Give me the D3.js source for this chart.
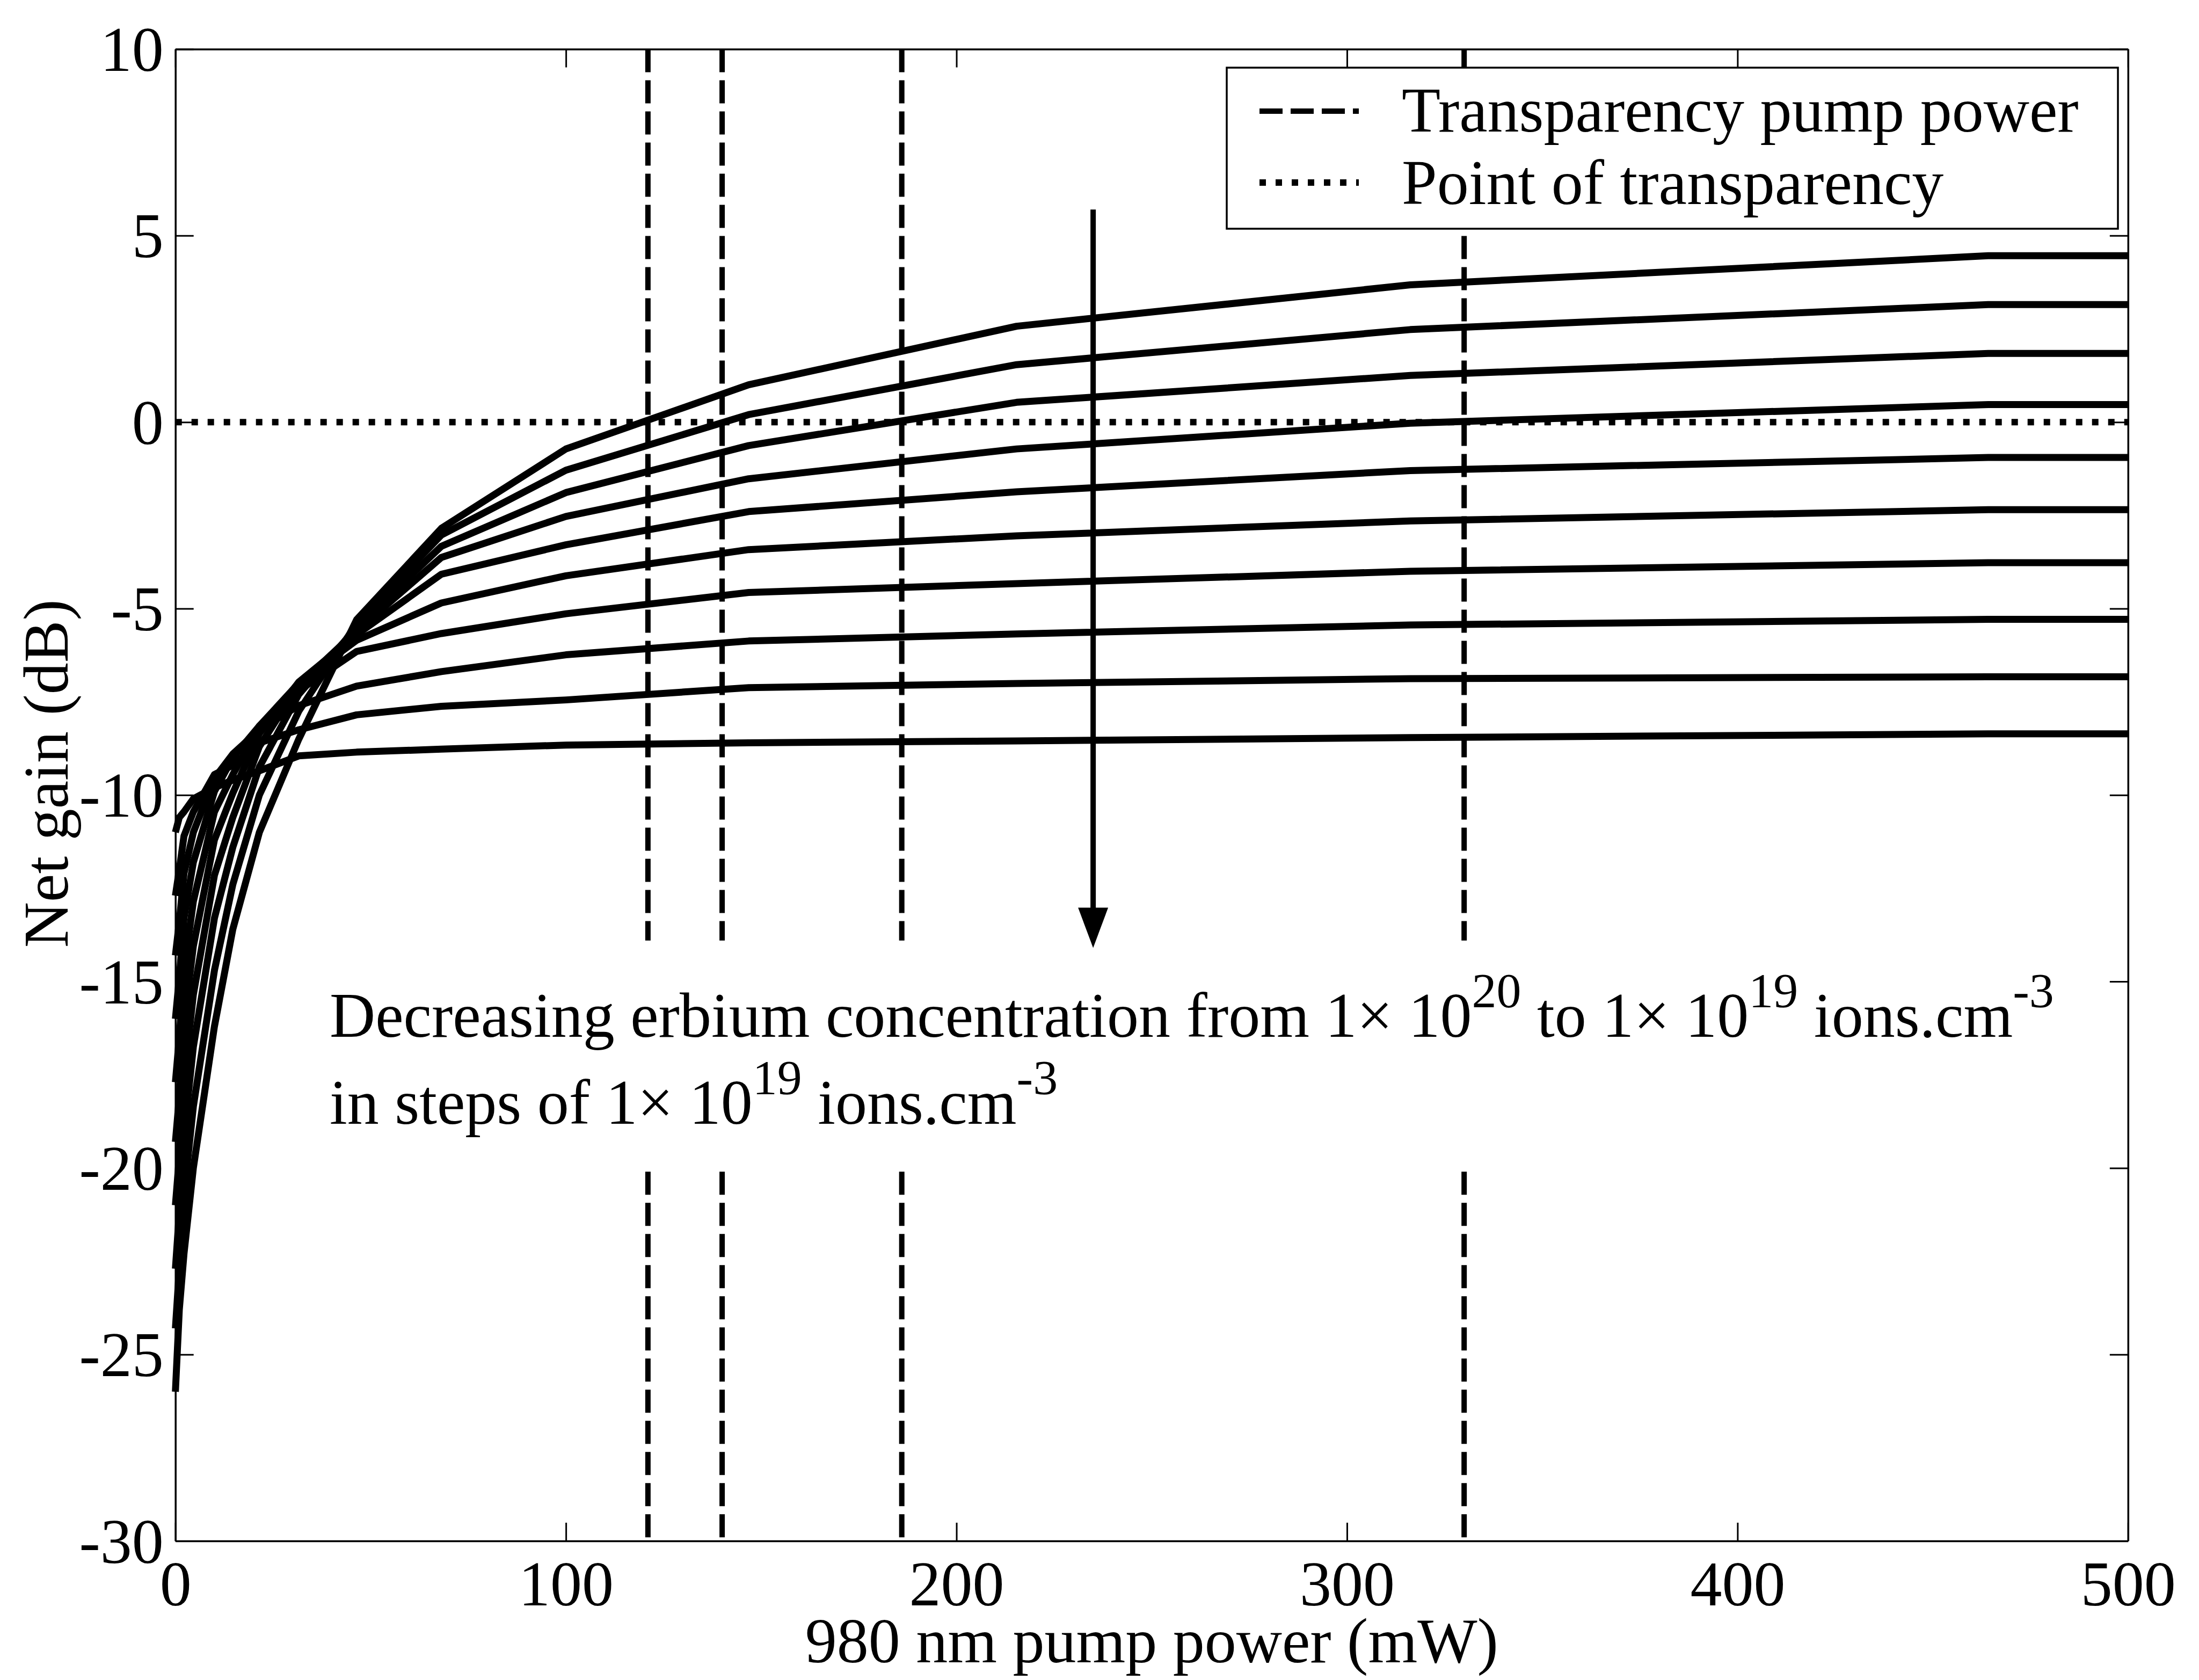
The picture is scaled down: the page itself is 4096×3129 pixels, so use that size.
<!DOCTYPE html>
<html>
<head>
<meta charset="utf-8">
<script src="https://cdn.jsdelivr.net/npm/d3@7"></script>
<style>
  html, body { margin: 0; padding: 0; background: #fff; }
  svg { display: block; }
  text { font-family: "Liberation Serif", "Times New Roman", serif; fill: #000; }
</style>
</head>
<body>
<svg id="chart" width="4096" height="3129"></svg>
<script>
// 980 nm pump power samples (mW)
const pumpPower = [0, 1, 2.2, 4.6, 10, 14.7, 21.5, 31.6, 46.4, 68.1, 100, 146.8, 215.4, 316.2, 464.2, 500];

// Net gain (dB) for each erbium concentration (x10^19 ions.cm^-3)
const gainC10 = [-26.0, -23.8, -22.3, -20.0, -16.2, -13.6, -11.0, -8.5, -5.3, -2.85, -0.72, 1.0, 2.57, 3.68, 4.46, 4.46];
const gainC9  = [-24.3, -22.7, -20.7, -18.35, -14.7, -12.4, -10.0, -7.75, -5.4, -3.03, -1.29, 0.2, 1.54, 2.48, 3.15, 3.15];
const gainC8  = [-22.7, -21.2, -19.1, -16.75, -13.3, -11.4, -9.25, -7.3, -5.5, -3.33, -1.89, -0.63, 0.53, 1.25, 1.84, 1.84];
const gainC7  = [-21.0, -19.7, -17.6, -15.35, -12.15, -10.6, -8.7, -7.05, -5.6, -3.63, -2.53, -1.52, -0.72, -0.03, 0.47, 0.47];
const gainC6  = [-19.3, -18.1, -16.1, -14.05, -11.2, -9.95, -8.35, -6.97, -5.7, -4.08, -3.29, -2.40, -1.87, -1.30, -0.95, -0.95];
const gainC5  = [-17.7, -16.5, -14.7, -12.85, -10.45, -9.45, -8.15, -7.0, -5.85, -4.85, -4.12, -3.42, -3.05, -2.65, -2.35, -2.35];
const gainC4  = [-16.0, -14.9, -13.3, -11.8, -9.9, -9.0, -8.15, -7.2, -6.15, -5.67, -5.14, -4.57, -4.33, -4.0, -3.77, -3.77];
const gainC3  = [-14.3, -13.4, -12.1, -11.0, -9.55, -8.9, -8.25, -7.6, -7.08, -6.69, -6.24, -5.87, -5.68, -5.44, -5.29, -5.29];
const gainC2  = [-12.7, -12.0, -11.1, -10.45, -9.45, -9.2, -8.6, -8.25, -7.85, -7.62, -7.45, -7.12, -7.01, -6.88, -6.83, -6.83];
const gainC1  = [-11.0, -10.6, -10.45, -10.1, -9.8, -9.6, -9.35, -8.95, -8.85, -8.77, -8.66, -8.6, -8.55, -8.46, -8.36, -8.36];
const gainSeries = [gainC10, gainC9, gainC8, gainC7, gainC6, gainC5, gainC4, gainC3, gainC2, gainC1];

// Axis ticks
const xTicks = [0, 100, 200, 300, 400, 500];
const yTicks = [10, 5, 0, -5, -10, -15, -20, -25, -30];

// Transparency pump powers (mW) and the 0 dB transparency level
const transparencyPower = [121, 140, 186, 330];
const transparencyGain = 0;
// vertical extent (dB) of the marker segments, broken around the note
const markerSpans = [[10, -13.9], [-20.1, -30]];

// Arrow showing the direction of decreasing concentration
const arrowPower = 235;
const arrowGain = [5.7, -14.1];

const legendLabels = ["Transparency pump power", "Point of transparency"];

// ---------------------------------------------------------------
const svg = d3.select("#chart");
const FS = 118;            // main font size
const TICK = 34;           // inward tick length

const plotL = 326.7, plotR = 3963.8, plotT = 91.5, plotB = 2870;
const x = d3.scaleLinear().domain([0, 500]).range([plotL, plotR]);
const y = d3.scaleLinear().domain([-30, 10]).range([plotB, plotT]);

svg.append("rect").attr("width", 4096).attr("height", 3129).attr("fill", "#fff");

// gain curves
const line = d3.line().x(d => x(d[0])).y(d => y(d[1]));
svg.append("g").selectAll("path")
  .data(gainSeries)
  .join("path")
  .attr("d", s => line(s.map((v, i) => [pumpPower[i], v])))
  .attr("fill", "none")
  .attr("stroke", "#000")
  .attr("stroke-width", 13)
  .attr("stroke-linejoin", "round");

// transparency pump power markers
const markers = svg.append("g");
transparencyPower.forEach(p => {
  markerSpans.forEach(span => {
    markers.append("line")
      .attr("x1", x(p)).attr("x2", x(p))
      .attr("y1", y(span[0])).attr("y2", y(span[1]))
      .attr("stroke", "#000")
      .attr("stroke-width", 10)
      .attr("stroke-dasharray", "43,15");
  });
});

// point of transparency (0 dB)
svg.append("line")
  .attr("x1", x(0)).attr("x2", x(500))
  .attr("y1", y(transparencyGain)).attr("y2", y(transparencyGain))
  .attr("stroke", "#000")
  .attr("stroke-width", 12)
  .attr("stroke-dasharray", "12,18");

// axes (ticks on all four sides, pointing inward)
const fmt = d => String(d);
const axB = svg.append("g").attr("transform", `translate(0,${plotB})`)
  .call(d3.axisBottom(x).tickValues(xTicks).tickSize(-TICK).tickSizeOuter(0).tickPadding(36).tickFormat(fmt));
const axT = svg.append("g").attr("transform", `translate(0,${plotT})`)
  .call(d3.axisTop(x).tickValues(xTicks).tickSize(-TICK).tickSizeOuter(0).tickFormat(""));
const axL = svg.append("g").attr("transform", `translate(${plotL},0)`)
  .call(d3.axisLeft(y).tickValues(yTicks).tickSize(-TICK).tickSizeOuter(0).tickPadding(22).tickFormat(fmt));
const axR = svg.append("g").attr("transform", `translate(${plotR},0)`)
  .call(d3.axisRight(y).tickValues(yTicks).tickSize(-TICK).tickSizeOuter(0).tickFormat(""));
[axB, axT, axL, axR].forEach(a => {
  a.selectAll("path.domain").attr("stroke", "#000").attr("stroke-width", 3.5);
  a.selectAll(".tick line").attr("stroke", "#000").attr("stroke-width", 3);
  a.selectAll(".tick text").attr("font-size", FS).attr("font-family", '"Liberation Serif", serif').attr("fill", "#000");
});
axL.selectAll(".tick text").attr("dy", "0.34em");

// axis titles
svg.append("text")
  .attr("x", (plotL + plotR) / 2).attr("y", 3096)
  .attr("text-anchor", "middle").attr("font-size", FS)
  .text("980 nm pump power (mW)");
svg.append("text")
  .attr("transform", `translate(126,${(plotT + plotB) / 2 - 40}) rotate(-90)`)
  .attr("text-anchor", "middle").attr("font-size", FS)
  .text("Net gain (dB)");

// arrow
const arrowX = x(arrowPower), headLen = 75, headW = 56;
svg.append("line")
  .attr("x1", arrowX).attr("x2", arrowX)
  .attr("y1", y(arrowGain[0])).attr("y2", y(arrowGain[1]) - headLen + 4)
  .attr("stroke", "#000").attr("stroke-width", 10);
svg.append("path")
  .attr("d", `M${arrowX - headW / 2},${y(arrowGain[1]) - headLen} L${arrowX + headW / 2},${y(arrowGain[1]) - headLen} L${arrowX},${y(arrowGain[1])} Z`)
  .attr("fill", "#000");

// annotation
const SUP = 92, RAISE = 55;
function writeLine(yy, parts) {
  const t = svg.append("text").attr("x", 614).attr("y", yy).attr("font-size", FS);
  parts.forEach(p => {
    if (p.sup) {
      t.append("tspan").attr("font-size", SUP).attr("dy", -RAISE).text(p.sup);
    } else {
      const s = t.append("tspan").text(p.txt);
      if (p.back) s.attr("dy", RAISE);
    }
  });
}
writeLine(1931, [
  { txt: "Decreasing erbium concentration from 1\u00d7 10" }, { sup: "20" },
  { txt: " to 1\u00d7 10", back: true }, { sup: "19" },
  { txt: " ions.cm", back: true }, { sup: "-3" }
]);
writeLine(2093, [
  { txt: "in steps of 1\u00d7 10" }, { sup: "19" },
  { txt: " ions.cm", back: true }, { sup: "-3" }
]);

// legend
const lg = svg.append("g");
lg.append("rect")
  .attr("x", 2285).attr("y", 126).attr("width", 1660).attr("height", 300)
  .attr("fill", "#fff").attr("stroke", "#000").attr("stroke-width", 3.5);
const legendRows = [
  { y: 207, base: 245, dash: "43,15", w: 10 },
  { y: 340, base: 380, dash: "12,18", w: 12 }
];
legendRows.forEach((r, i) => {
  lg.append("line")
    .attr("x1", 2346).attr("x2", 2531).attr("y1", r.y).attr("y2", r.y)
    .attr("stroke", "#000").attr("stroke-width", r.w).attr("stroke-dasharray", r.dash);
  lg.append("text").attr("x", 2611).attr("y", r.base).attr("font-size", FS).text(legendLabels[i]);
});
</script>
</body>
</html>
